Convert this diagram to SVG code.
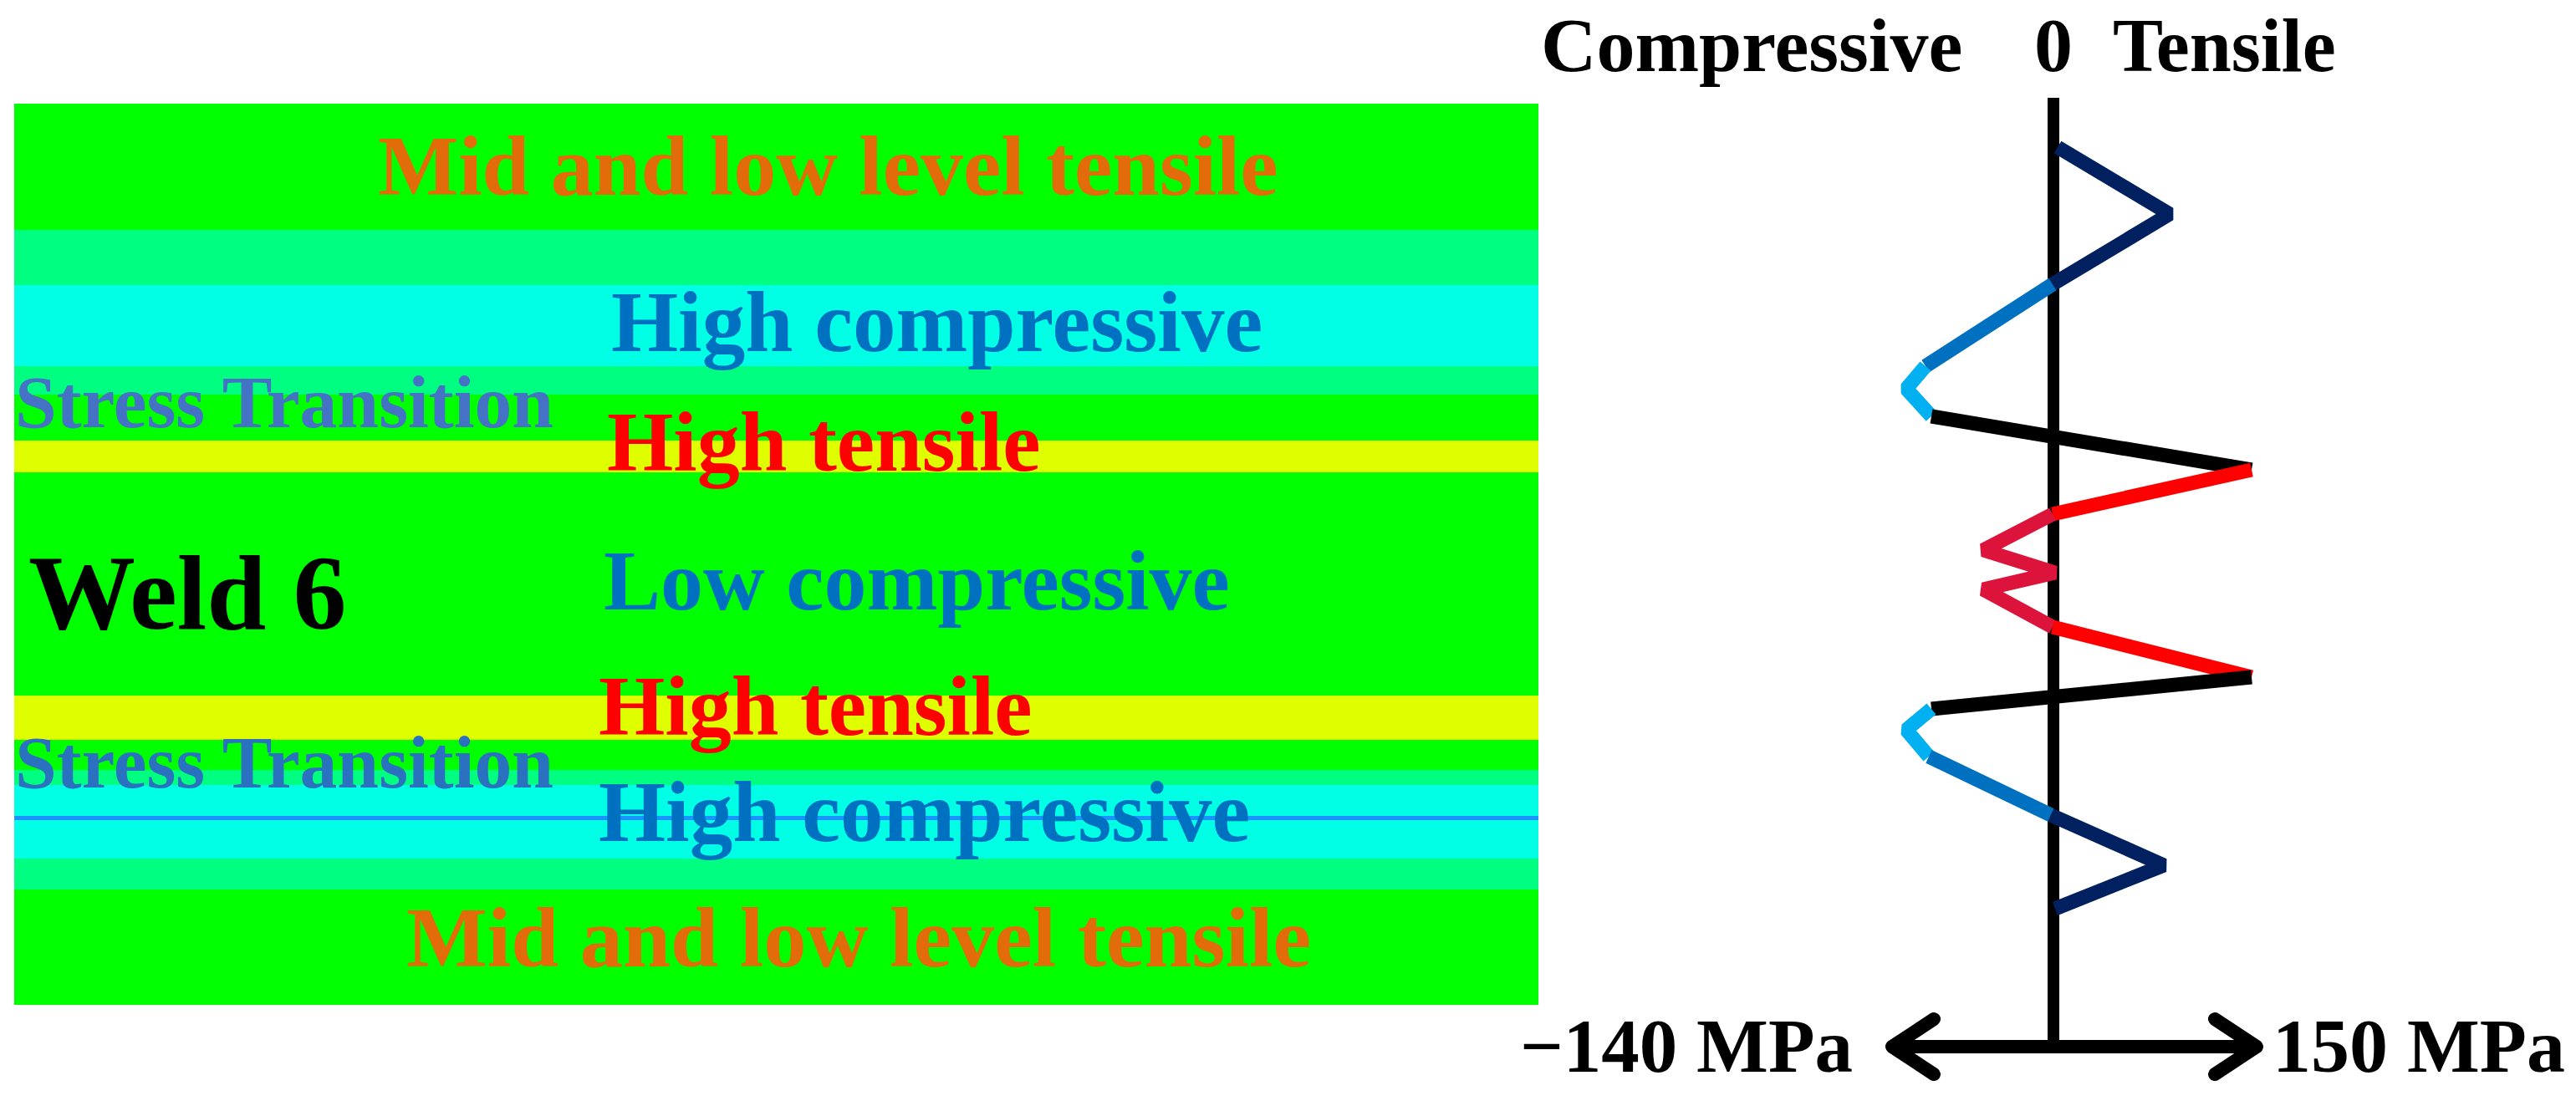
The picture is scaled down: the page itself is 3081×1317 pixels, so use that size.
<svg xmlns="http://www.w3.org/2000/svg" width="3081" height="1317" viewBox="0 0 3081 1317">
<style>
text{font-family:"Liberation Serif","Times New Roman",serif;font-weight:bold}
.lbl{font-size:102px}
.st{font-size:89.5px}
.ax{font-size:92px;fill:#000}
.orange{fill:#E36C0A}
.blue{fill:#0070C0}
.red{fill:#FF0000}
.seg{fill:none;stroke-width:17;stroke-linejoin:bevel;stroke-linecap:butt}
.navy{stroke:#002060}
.mblue{stroke:#0070C0}
.lblue{stroke:#00B0F0}
.blk{stroke:#000}
.rd{stroke:#FF0000}
.crim{stroke:#DC143C}
</style>
<defs>
<marker id="chev" markerUnits="userSpaceOnUse" orient="auto-start-reverse" refX="0" refY="0" markerWidth="200" markerHeight="200" overflow="visible">
<path d="M-50,-33 L0,0 L-50,33" fill="none" stroke="#000" stroke-width="16" stroke-linecap="round" stroke-linejoin="round"/>
</marker>
</defs>
<rect width="3081" height="1317" fill="#fff"/>
<g id="weld-map">
<rect x="17" y="124" width="1823" height="1078" fill="#00FF00"/>
<rect x="17" y="275" width="1823" height="66" fill="#00FF80"/>
<rect x="17" y="341" width="1823" height="97" fill="#00FFE4"/>
<rect x="17" y="438" width="1823" height="34" fill="#00FF80"/>
<rect x="17" y="527" width="1823" height="38" fill="#DFFF00"/>
<rect x="17" y="832" width="1823" height="53" fill="#DFFF00"/>
<rect x="17" y="921" width="1823" height="18" fill="#00FF80"/>
<rect x="17" y="939" width="1823" height="88" fill="#00FFE4"/>
<rect x="17" y="976" width="1823" height="5" fill="#1E90FF"/>
<rect x="17" y="1027" width="1823" height="37" fill="#00FF80"/>
</g>
<g id="labels">
<text class="lbl orange" x="452" y="233">Mid and low level tensile</text>
<text class="lbl blue" x="731" y="420" style="font-size:103px">High compressive</text>
<text class="st" x="18" y="511" fill="#4472C4">Stress Transition</text>
<text class="lbl red" x="726" y="563">High tensile</text>
<text x="34" y="752" style="font-size:128px" fill="#000">Weld 6</text>
<text class="lbl blue" x="722" y="729">Low compressive</text>
<text class="lbl red" x="716" y="879">High tensile</text>
<text class="st" x="18" y="942" fill="#2A72C0">Stress Transition</text>
<text class="lbl blue" x="716" y="1006" style="font-size:103px">High compressive</text>
<text class="lbl orange" x="486" y="1156" style="font-size:102.5px">Mid and low level tensile</text>
</g>
<g id="axis-titles">
<text class="ax" y="85"><tspan x="1843">Compressive</tspan><tspan x="2433">0</tspan><tspan x="2527" style="font-size:90px">Tensile</tspan></text>
<text class="ax" x="1818" y="1282" style="font-size:91px">−140 MPa</text>
<text class="ax" x="2718" y="1282">150 MPa</text>
</g>
<g id="connectors">
<line x1="2456" y1="117" x2="2456" y2="1256" stroke="#000" stroke-width="14"/>
<line x1="2263" y1="1252" x2="2699" y2="1252" stroke="#000" stroke-width="16" marker-start="url(#chev)" marker-end="url(#chev)"/>
</g>
<g id="stress-curve">
<polyline class="seg navy" points="2461,176 2595,256 2455,340"/>
<polyline class="seg mblue" points="2455,340 2303,438"/>
<polyline class="seg lblue" points="2303,438 2280,465 2310,498"/>
<polyline class="seg blk" points="2310,498 2693,562"/>
<polyline class="seg rd" points="2693,562 2455,615"/>
<polyline class="seg crim" points="2455,615 2372,658 2458,685 2372,705 2455,750"/>
<polyline class="seg rd" points="2455,750 2693,810"/>
<polyline class="seg blk" points="2693,810 2310,848"/>
<polyline class="seg lblue" points="2310,848 2280,873 2307,905"/>
<polyline class="seg mblue" points="2307,905 2453,975"/>
<polyline class="seg navy" points="2453,975 2588,1035 2458,1087"/>
</g>
</svg>
